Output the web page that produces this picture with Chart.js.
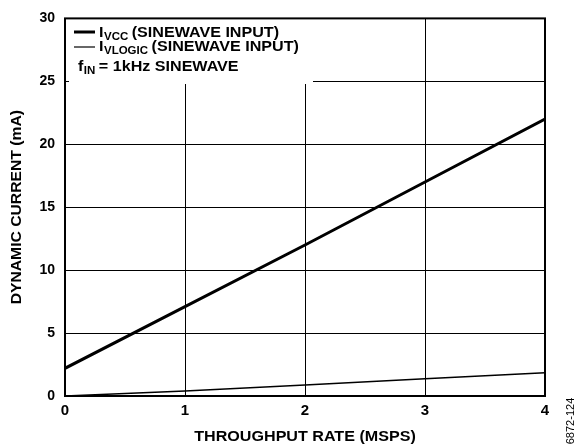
<!DOCTYPE html>
<html lang="en">
<head>
    <meta charset="UTF-8">
    <title>Dynamic Current vs Throughput</title>
    <script src="https://cdn.jsdelivr.net/npm/chart.js"></script>
    <style>
        html, body { margin: 0; padding: 0; background: #fff; }
        #wrap { width: 582px; height: 446px; position: relative; }
    </style>
</head>
<body>
    <div id="wrap">
        <canvas id="myChart" width="582" height="446"></canvas>
    </div>

    <script>
    // data
    const throughput = [0, 1, 2, 3, 4];
    const iVcc = [2.2, 7.1, 12.0, 17.0, 22.0];
    const iVlogic = [0, 0.4, 0.88, 1.37, 1.84];
    const xTicks = [0, 1, 2, 3, 4];
    const yTicks = [0, 5, 10, 15, 20, 25, 30];

    const FONT = '"Liberation Sans", Arial, sans-serif';
    const STRETCH = 1.15;

    function pts(xs, ys) {
        return xs.map((x, i) => ({ x: x, y: ys[i] }));
    }

    // text a bit wider than Liberation, like the original typeface
    function wideText(ctx, txt, x, y, size, sx) {
        sx = sx || STRETCH;
        ctx.font = 'bold ' + size + 'px ' + FONT;
        ctx.save();
        ctx.translate(x, y);
        ctx.scale(sx, 1);
        ctx.fillText(txt, 0, 0);
        ctx.restore();
        return ctx.measureText(txt).width * sx;
    }

    // main letter + subscript + rest
    function subText(ctx, x, y, main, sub, rest) {
        x += wideText(ctx, main, x, y, 14);
        x += wideText(ctx, sub, x + 0.5, y + 3, 10) + 4;
        wideText(ctx, rest, x, y, 14);
    }

    const decorations = {
        id: 'decorations',
        afterDraw(chart) {
            const ctx = chart.ctx;
            const a = chart.chartArea;
            ctx.save();

            // legend box (white, hides grid)
            ctx.fillStyle = '#fff';
            ctx.fillRect(69, 17, 313 - 69, 84 - 17);

            ctx.strokeStyle = '#000';
            ctx.lineWidth = 3;
            ctx.beginPath(); ctx.moveTo(74, 32); ctx.lineTo(95, 32); ctx.stroke();
            ctx.lineWidth = 1.2;
            ctx.beginPath(); ctx.moveTo(74, 47); ctx.lineTo(95, 47); ctx.stroke();

            ctx.fillStyle = '#000';
            ctx.textBaseline = 'alphabetic';
            ctx.textAlign = 'left';
            subText(ctx, 99, 37, 'I', 'VCC', '(SINEWAVE INPUT)');
            subText(ctx, 99, 51, 'I', 'VLOGIC', '(SINEWAVE INPUT)');
            subText(ctx, 78, 71, 'f', 'IN', '= 1kHz SINEWAVE');

            // frame
            ctx.lineWidth = 2;
            ctx.strokeRect(a.left, a.top, a.right - a.left, a.bottom - a.top);

            // axis titles
            ctx.textAlign = 'center';
            ctx.textBaseline = 'middle';
            wideText(ctx, 'THROUGHPUT RATE (MSPS)', (a.left + a.right) / 2, 437, 14);

            ctx.save();
            ctx.translate(17, (a.top + a.bottom) / 2);
            ctx.rotate(-Math.PI / 2);
            wideText(ctx, 'DYNAMIC CURRENT (mA)', 0, 0, 14, 1.12);
            ctx.restore();

            // figure id
            ctx.save();
            ctx.font = '11px ' + FONT;
            ctx.translate(571, 421);
            ctx.rotate(-Math.PI / 2);
            ctx.fillText('6872-124', 0, 0);
            ctx.restore();

            ctx.restore();
        }
    };

    new Chart(document.getElementById('myChart'), {
        type: 'line',
        data: {
            datasets: [{
                label: 'IVCC (SINEWAVE INPUT)',
                data: pts(throughput, iVcc),
                borderColor: '#000',
                borderWidth: 3,
                pointRadius: 0,
                tension: 0
            }, {
                label: 'IVLOGIC (SINEWAVE INPUT)',
                data: pts(throughput, iVlogic),
                borderColor: '#000',
                borderWidth: 1.5,
                pointRadius: 0,
                tension: 0
            }]
        },
        options: {
            responsive: false,
            animation: false,
            layout: { padding: { left: 0, right: 37, top: 14, bottom: 0 } },
            plugins: { legend: { display: false }, tooltip: { enabled: false } },
            scales: {
                x: {
                    type: 'linear',
                    min: 0, max: 4,
                    afterBuildTicks: s => { s.ticks = xTicks.map(v => ({ value: v })); },
                    afterFit: s => { s.height = 50; },
                    grid: { color: '#000', lineWidth: 1, drawTicks: false },
                    border: { display: false },
                    ticks: { color: '#000', padding: 6, font: { family: FONT, size: 15, weight: 'bold' } }
                },
                y: {
                    min: 0, max: 30,
                    afterBuildTicks: s => { s.ticks = yTicks.map(v => ({ value: v })); },
                    afterFit: s => { s.width = 65; },
                    grid: { color: '#000', lineWidth: 1, drawTicks: false },
                    border: { display: false },
                    ticks: { color: '#000', padding: 10, font: { family: FONT, size: 14, weight: 'bold' } }
                }
            }
        },
        plugins: [decorations]
    });
    </script>
</body>
</html>
